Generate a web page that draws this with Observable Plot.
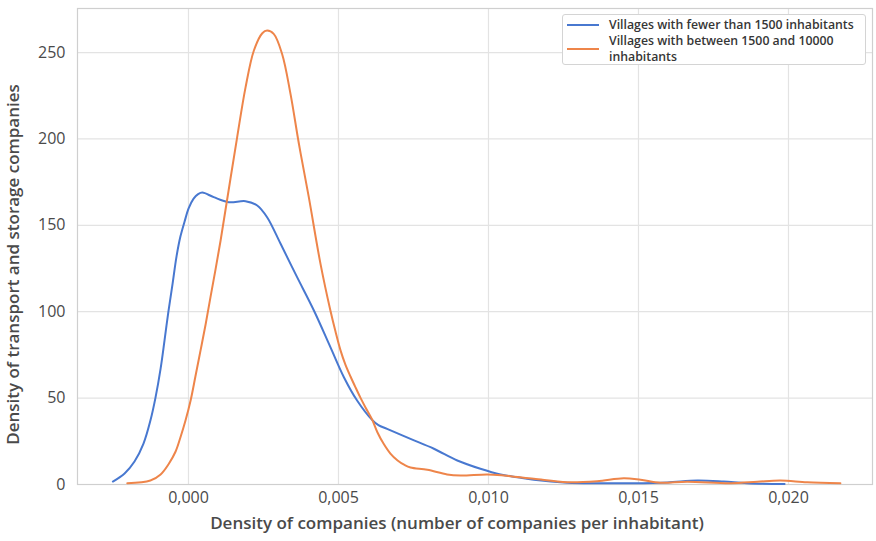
<!DOCTYPE html>
<html>
<head>
<meta charset="utf-8">
<script src="https://cdn.jsdelivr.net/npm/d3@7"></script>
<script src="https://cdn.jsdelivr.net/npm/@observablehq/plot@0.6"></script>
<style>
  html, body { margin: 0; padding: 0; background: #fff; }
  #wrap { position: relative; width: 876px; height: 541px; font-family: "Open Sans", sans-serif; }
  #legend {
    position: absolute; left: 562px; top: 14px; width: 304px; height: 51px;
    border: 1px solid #d4d4d4; border-radius: 3px; background: #fff;
    padding: 2px 0 0 0; box-sizing: border-box;
    font-size: 12.3px; font-weight: 600; color: #363636; line-height: 16px;
  }
  #legend .row { display: flex; align-items: center; }
  #legend .sw { width: 32px; height: 2px; margin: 0 10px 0 4px; flex: none; }
</style>
</head>
<body>
<div id="wrap"><div id="legend"></div></div>
<script>
// Kernel density estimates of company density (companies per inhabitant)
const seriesNames = [
  "Villages with fewer than 1500 inhabitants",
  "Villages with between 1500 and 10000 inhabitants"
];
const seriesColors = ["#4878d0", "#ee854a"];

// Small villages: x = companies per inhabitant, y = density
const smallX = [-0.00252, -0.00213, -0.00180, -0.00150, -0.00127, -0.00110, -0.00093, -0.00080, -0.00067, -0.00053, -0.00040, -0.00027, -0.00013, 0.00000, 0.00017, 0.00032, 0.00046, 0.00084, 0.00134, 0.00190, 0.00229, 0.00262, 0.00307, 0.00362, 0.00418, 0.00473, 0.00518, 0.00562, 0.00612, 0.00633, 0.00662, 0.00740, 0.00818, 0.00896, 0.00973, 0.01040, 0.01096, 0.01151, 0.01262, 0.01373, 0.01484, 0.01596, 0.01696, 0.01784, 0.01862, 0.01987];
const smallY = [1.7, 6.4, 13.3, 23.7, 37.0, 50.3, 67.1, 83.3, 100.1, 116.3, 131.9, 143.5, 152.2, 159.7, 165.5, 168.1, 169.0, 166.3, 163.4, 164.0, 161.5, 154.7, 139.3, 120.0, 100.7, 79.5, 62.1, 48.6, 37.4, 34.4, 32.2, 26.4, 20.7, 13.9, 9.1, 5.8, 4.2, 2.7, 1.0, 0.75, 0.75, 1.2, 2.3, 1.7, 0.75, 0.3];

// Mid-size villages
const midX = [-0.00204, -0.00127, -0.00093, -0.00067, -0.00043, -0.00027, -0.00010, 0.00007, 0.00023, 0.00040, 0.00057, 0.00073, 0.00090, 0.00107, 0.00123, 0.00140, 0.00162, 0.00190, 0.00218, 0.00246, 0.00262, 0.00284, 0.00312, 0.00340, 0.00368, 0.00401, 0.00440, 0.00473, 0.00490, 0.00507, 0.00523, 0.00540, 0.00557, 0.00573, 0.00590, 0.00612, 0.00630, 0.00650, 0.00673, 0.00697, 0.00720, 0.00740, 0.00796, 0.00862, 0.00907, 0.00996, 0.01051, 0.01151, 0.01262, 0.01362, 0.01451, 0.01507, 0.01573, 0.01662, 0.01807, 0.01896, 0.01973, 0.02062, 0.02173];
const midY = [0.75, 2.3, 5.8, 11.6, 19.1, 27.2, 37.0, 48.6, 62.5, 77.5, 92.6, 108.2, 124.4, 141.2, 158.6, 177.1, 200.8, 229.7, 251.2, 261.2, 262.7, 260.8, 249.2, 226.1, 197.2, 166.3, 127.7, 100.7, 88.5, 77.5, 69.4, 62.5, 56.1, 50.3, 44.6, 37.6, 30.1, 23.7, 17.9, 13.9, 11.3, 9.8, 8.5, 5.8, 5.2, 5.8, 5.2, 3.3, 1.3, 1.9, 3.6, 2.7, 1.0, 1.6, 0.75, 1.6, 2.3, 1.3, 0.75];

const xTicks = [0, 0.005, 0.010, 0.015, 0.020];
const yTicks = [0, 50, 100, 150, 200, 250];

const rows = [
  ...smallX.map((x, i) => ({series: seriesNames[0], x, y: smallY[i]})),
  ...midX.map((x, i) => ({series: seriesNames[1], x, y: midY[i]}))
];

const commaFormat = d => d3.format(".3f")(d).replace(".", ",");

const chart = Plot.plot({
  width: 876,
  height: 541,
  marginLeft: 77,
  marginRight: 4,
  marginTop: 8,
  marginBottom: 57,
  style: {fontFamily: "Open Sans, sans-serif", background: "#fff", overflow: "visible"},
  x: {domain: [-0.0037, 0.0228]},
  y: {domain: [0, 275.5]},
  color: {domain: seriesNames, range: seriesColors},
  marks: [
    Plot.gridX(xTicks, {stroke: "#e3e3e3", strokeOpacity: 1, strokeWidth: 1.2}),
    Plot.gridY(yTicks, {stroke: "#e3e3e3", strokeOpacity: 1, strokeWidth: 1.2}),
    Plot.frame({stroke: "#cfcfcf", strokeWidth: 1.2}),
    Plot.line(rows, {x: "x", y: "y", z: "series", stroke: "series", strokeWidth: 2, curve: "catmull-rom"}),
    Plot.axisX(xTicks, {
      tickSize: 0, tickPadding: 7, tickFormat: commaFormat, fontSize: 16, fill: "#4a4a4a",
      label: "Density of companies (number of companies per inhabitant)",
      labelAnchor: "center", labelArrow: "none", labelOffset: 44
    }),
    Plot.axisY(yTicks, {
      tickSize: 0, tickPadding: 12, fontSize: 16, fill: "#4a4a4a",
      label: "Density of transport and storage companies",
      labelAnchor: "center", labelArrow: "none", labelOffset: 71
    })
  ]
});

// Axis titles are a bit heavier than the tick labels
chart.querySelectorAll("g[aria-label$='axis label'] text").forEach(t => {
  t.setAttribute("font-weight", "600");
  t.setAttribute("font-size", "17");
});
// Both titles sit a little off the middle of the frame (down and to the left)
const nudge = (selector, dx, dy) => {
  const g = chart.querySelector(selector);
  if (g) g.setAttribute("transform", `translate(${dx},${dy}) ${g.getAttribute("transform") || ""}`);
};
nudge("g[aria-label='y-axis label']", 0, 18);
nudge("g[aria-label='x-axis label']", -18, 0);

const wrap = document.getElementById("wrap");
wrap.insertBefore(chart, wrap.firstChild);

// Legend box in the upper right of the plotting area
const legend = document.getElementById("legend");
legend.innerHTML = seriesNames.map((name, i) =>
  `<div class="row"><span class="sw" style="background:${seriesColors[i]}"></span><span>${
    i === 1 ? "Villages with between 1500 and 10000<br>inhabitants" : name}</span></div>`
).join("");
</script>
</body>
</html>
